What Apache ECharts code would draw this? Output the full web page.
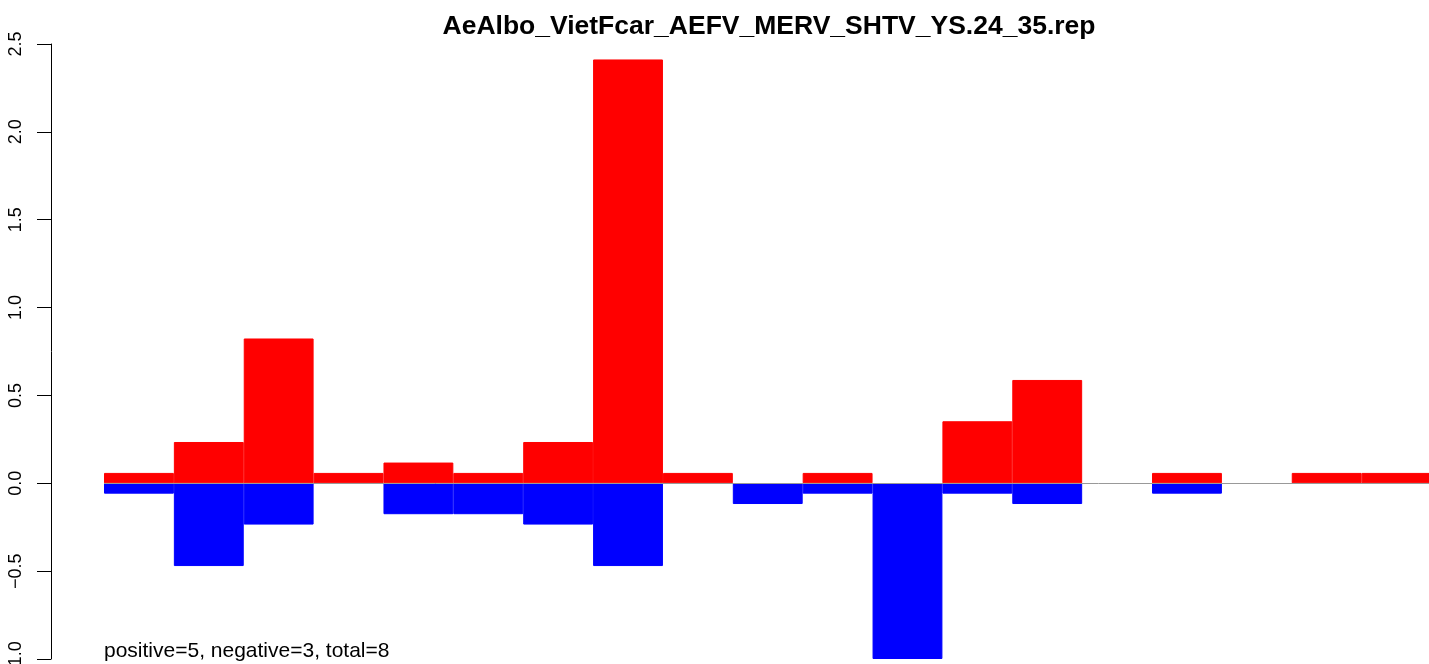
<!DOCTYPE html>
<html><head><meta charset="utf-8">
<script src="https://cdn.jsdelivr.net/npm/echarts@6/dist/echarts.min.js"></script>
<style>html,body{margin:0;padding:0;background:#fff}#c{width:1429px;height:664px}</style>
</head><body><div id="c"></div>
<script>
const categories = ['1','2','3','4','5','6','7','8','9','10','11','12','13','14','15','16','17','18','19'];
const positiveValues = [0.059,0.235,0.824,0.059,0.118,0.059,0.235,2.412,0.059,0,0.059,0,0.353,0.588,0,0.059,0,0.059,0.059];
const negativeValues = [-0.059,-0.471,-0.235,0,-0.176,-0.176,-0.235,-0.471,0,-0.118,-0.059,-1.0,-0.059,-0.118,0,-0.059,0,0,0];
const yTicks = [-1.0,-0.5,0.0,0.5,1.0,1.5,2.0,2.5];
const titleText = 'AeAlbo_VietFcar_AEFV_MERV_SHTV_YS.24_35.rep';
const noteText = 'positive=5, negative=3, total=8';

const skipZero = arr => arr.map(v => v === 0 ? '-' : v);
const chart = echarts.init(document.getElementById('c'), null, {renderer:'canvas'});
const font = 'Liberation Sans, Arial, Helvetica, sans-serif';
chart.setOption({
  animation:false,
  backgroundColor:'#fff',
  grid:{left:104, top:44, width:1327.5, height:615, containLabel:false, outerBoundsMode:'none'},
  xAxis:{type:'category', data:categories, boundaryGap:true,
    axisLine:{show:false}, axisTick:{show:false}, axisLabel:{show:false}, splitLine:{show:false}},
  yAxis:{type:'value', min:-1, max:2.5, interval:0.5, offset:53,
    axisLine:{show:true, lineStyle:{color:'#000', width:1}},
    axisTick:{show:true, inside:false, length:14, lineStyle:{color:'#000'}},
    splitLine:{show:false},
    axisLabel:{show:true, rotate:90, margin:26, color:'#000', fontSize:18, fontFamily:font, hideOverlap:false,
      formatter:v=>{const t=yTicks.find(x=>Math.abs(x-v)<1e-9);return t===undefined?'':(t<0?'\u2212':'')+Math.abs(t).toFixed(1);}}},
  series:[
    {type:'bar', data:[], z:1, silent:true,
      markLine:{silent:true, symbol:'none', label:{show:false},
        lineStyle:{color:'#999', width:1, type:'solid'}, data:[{yAxis:0}]}},
    {type:'bar', data:skipZero(positiveValues), barWidth:'100%', barGap:'-100%', z:2,
      itemStyle:{color:'#ff0000', borderColor:'#ff0000', borderWidth:1}},
    {type:'bar', data:skipZero(negativeValues), barWidth:'100%', barGap:'-100%', z:2,
      itemStyle:{color:'#0000ff', borderColor:'#0000ff', borderWidth:1}}
  ],
  graphic:[
    {type:'text', x:769, y:27, style:{text:titleText, fill:'#000', font:'bold 26.5px '+font, textAlign:'center', textVerticalAlign:'middle'}},
    {type:'text', x:104, y:651, style:{text:noteText, fill:'#000', font:'21px '+font, textAlign:'left', textVerticalAlign:'middle'}}
  ]
});
</script></body></html>
